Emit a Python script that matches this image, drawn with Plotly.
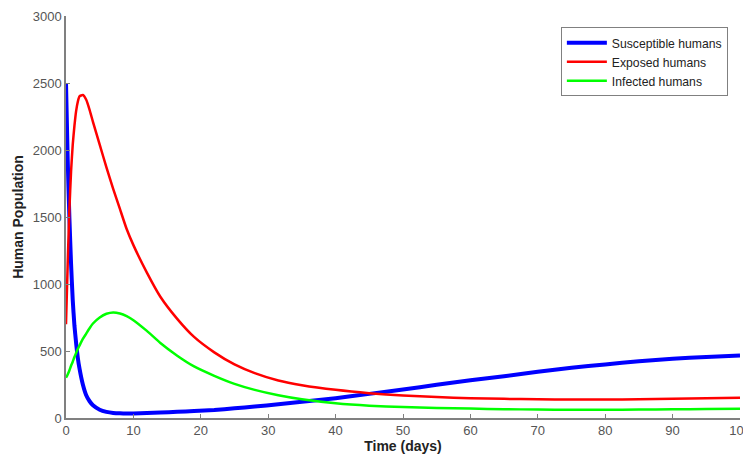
import plotly.graph_objects as go

time_days = [0, 0.25, 0.5, 0.75, 1, 1.25, 1.5, 1.75, 2, 2.5, 3, 3.5, 4, 5, 6, 7, 8, 9, 10, 12, 14,
             16.5, 19, 22, 25, 28, 31.5, 35, 40, 45, 50, 55, 60, 65, 70, 75, 80, 85, 90, 95, 100]
susceptible = [2500, 1930, 1500, 1150, 880, 690, 560, 450, 370, 250, 170, 125, 95, 62, 46, 38, 35, 34, 34, 37, 41,
               46, 52, 60, 72, 85, 103, 122, 148, 180, 212, 248, 282, 312, 345, 375, 400, 423, 443, 456, 466]
exposed = [700, 1150, 1550, 1840, 2040, 2180, 2290, 2360, 2400, 2410, 2375, 2300, 2210, 2040, 1870, 1710, 1560, 1410, 1290, 1085, 905,
           740, 605, 490, 400, 335, 280, 245, 210, 185, 168, 156, 148, 143, 139, 138, 138, 140, 143, 147, 151]
infected = [300, 325, 355, 390, 420, 455, 485, 515, 540, 590, 630, 670, 705, 750, 778, 788, 780, 760, 730, 650, 560,
            465, 385, 315, 255, 210, 170, 140, 110, 92, 82, 75, 70, 66, 63, 62, 62, 63, 65, 67, 69]

series_names = ["Susceptible humans", "Exposed humans", "Infected humans"]
x_ticks = list(range(0, 101, 10))
y_ticks = list(range(0, 3001, 500))

fig = go.Figure()
styles = [("#0000ff", 4), ("#ff0000", 2.5), ("#00ff00", 2.5)]
for name, vals, (col, w) in zip(series_names, [susceptible, exposed, infected], styles):
    fig.add_trace(go.Scatter(x=time_days, y=vals, mode="lines", name=name,
                             line=dict(color=col, width=w, shape="spline", smoothing=0.5)))

axis_common = dict(showgrid=False, zeroline=False, showline=True, linecolor="#808080", linewidth=1.5,
                   ticks="inside", ticklen=4, tickcolor="#808080", mirror=False, automargin=False,
                   ticklabeloverflow="allow",
                   tickfont=dict(family="Liberation Sans, Arial, sans-serif", size=13, color="#555555"))

fig.update_layout(
    width=743, height=455,
    margin=dict(l=58, r=11, t=8, b=45),
    paper_bgcolor="white", plot_bgcolor="white",
    font=dict(family="Liberation Sans, Arial, sans-serif"),
    xaxis=dict(range=[0, 100], tickvals=x_ticks,
               title=dict(text="<b>Time (days)</b>", font=dict(size=14, color="#222"), standoff=4),
               **axis_common),
    yaxis=dict(range=[0, 3000], tickvals=y_ticks,
               title=dict(text="<b>Human Population</b>", font=dict(size=14, color="#222"), standoff=6),
               **axis_common),
    legend=dict(x=0.982, y=0.972, xanchor="right", yanchor="top",
                bgcolor="white", bordercolor="#808080", borderwidth=1, itemwidth=40,
                font=dict(size=12.2, color="#222"), tracegroupgap=0),
    showlegend=True,
)

fig.write_html("out.html")
